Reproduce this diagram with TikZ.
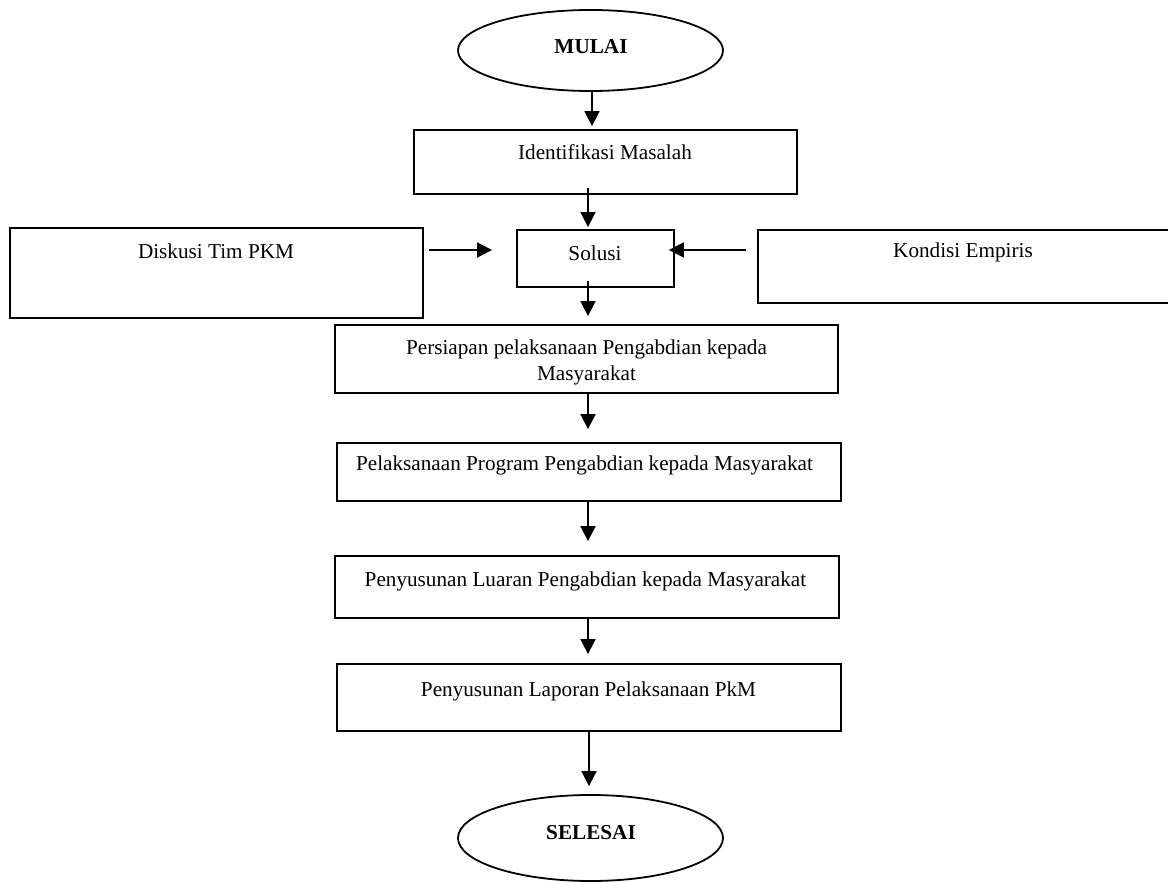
\documentclass[tikz,border=0pt]{standalone}
\usepackage{fontspec}
\setmainfont{Liberation Serif}
\usetikzlibrary{arrows.meta,shapes.geometric}
\tikzset{
  bx/.style={draw, line width=0.9pt, inner sep=0pt},
  ov/.style={draw, ellipse, line width=0.9pt, inner sep=0pt},
  txt/.style={inner sep=0pt, font=\fontsize{10.6}{12.5}\selectfont},
  btxt/.style={inner sep=0pt, font=\fontsize{10.6}{12.5}\selectfont\bfseries},
  arr/.style={-{Triangle[length=7.5pt,width=7.5pt]}, line width=0.85pt}
}
\begin{document}
\begin{tikzpicture}[x=0.5pt,y=-0.5pt]
\useasboundingbox (0,0) rectangle (1168,882);
% shapes
\node[ov, minimum width=132.5pt, minimum height=40.5pt] (mulai) at (590.5,50.5) {};
\node[bx, minimum width=191.5pt, minimum height=32pt] (iden) at (605.5,162) {};
\node[bx, minimum width=78.5pt, minimum height=28.5pt] (solusi) at (595.5,258.5) {};
\node[bx, minimum width=206.5pt, minimum height=45pt] (diskusi) at (216.5,273) {};
\node[bx, minimum width=206pt, minimum height=36.5pt] (kondisi) at (964,266.5) {};
\node[bx, minimum width=251.5pt, minimum height=34pt] (pers) at (586.5,359) {};
\node[bx, minimum width=252pt, minimum height=29pt] (pelaks) at (589,472) {};
\node[bx, minimum width=252pt, minimum height=31pt] (luaran) at (587,587) {};
\node[bx, minimum width=252pt, minimum height=33.5pt] (laporan) at (589,697.5) {};
\node[ov, minimum width=132.5pt, minimum height=43pt] (selesai) at (590.5,838) {};
% texts
\node[btxt, anchor=base] (tmulai) at (591,54) {MULAI};
\node[txt, anchor=base] (tiden) at (605,160) {Identifikasi Masalah};
\node[txt, anchor=base] (tdiskusi) at (216,259) {Diskusi Tim PKM};
\node[txt, anchor=base] (tsolusi) at (595,261) {Solusi};
\node[txt, anchor=base] (tkondisi) at (963,258) {Kondisi Empiris};
\node[txt, anchor=base] (tpers1) at (586.5,355) {Persiapan pelaksanaan Pengabdian kepada};
\node[txt, anchor=base] (tpers2) at (586.5,380) {Masyarakat};
\node[txt, anchor=base] (tpelaks) at (584.5,470) {Pelaksanaan Program Pengabdian kepada Masyarakat};
\node[txt, anchor=base] (tluaran) at (585.5,586) {Penyusunan Luaran Pengabdian kepada Masyarakat};
\node[txt, anchor=base] (tlaporan) at (588.5,696) {Penyusunan Laporan Pelaksanaan PkM};
\node[btxt, anchor=base] (tselesai) at (591,839) {SELESAI};
% connectors
\coordinate (sp) at (588,0);
\coordinate (sa) at (592,0);
\coordinate (sz) at (589,0);
\coordinate (hy) at (0,250);
\draw[arr, shorten >=1.5pt] (mulai.south -| sa) -- (iden.north -| sa);
\draw[arr, shorten <=-3.5pt, shorten >=1pt] (iden.south -| sp) -- (solusi.north -| sp);
\draw[arr, shorten <=-3.5pt, shorten >=4pt] (solusi.south -| sp) -- (pers.north -| sp);
\draw[arr, shorten >=6.5pt] (pers.south -| sp) -- (pelaks.north -| sp);
\draw[arr, shorten >=7pt] (pelaks.south -| sp) -- (luaran.north -| sp);
\draw[arr, shorten >=4.5pt] (luaran.south -| sp) -- (laporan.north -| sp);
\draw[arr, shorten >=4pt] (laporan.south -| sz) -- (selesai.north -| sz);
\draw[arr, shorten <=2.5pt, shorten >=12pt] (diskusi.east |- hy) -- (solusi.west |- hy);
\draw[arr, shorten <=5.5pt, shorten >=-3pt] (kondisi.west |- hy) -- (solusi.east |- hy);
\end{tikzpicture}
\end{document}
